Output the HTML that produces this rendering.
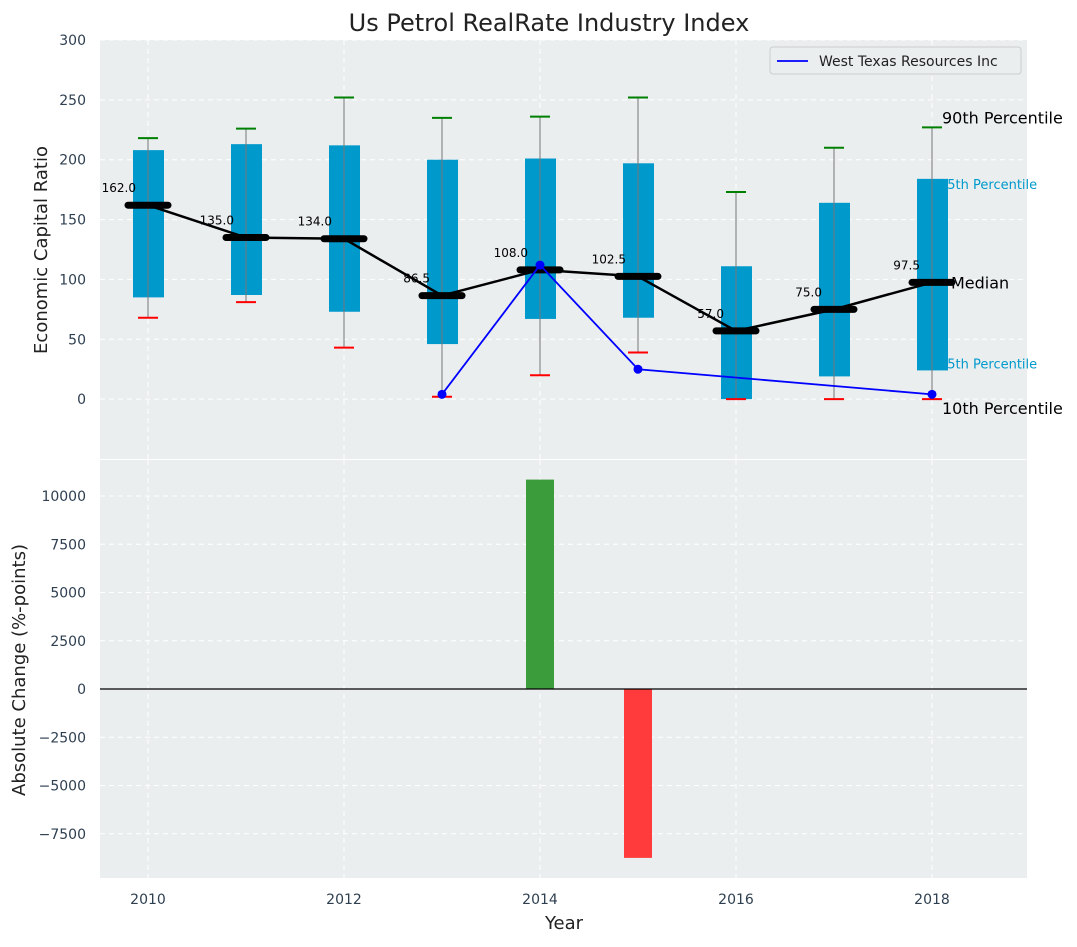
<!DOCTYPE html>
<html><head><meta charset="utf-8"><style>
body{margin:0;background:#fff;font-family:"Liberation Sans","DejaVu Sans",sans-serif;}
svg text{font-family:"DejaVu Sans","Liberation Sans",sans-serif;}
</style></head><body>
<svg id="c" width="1077" height="942" xmlns="http://www.w3.org/2000/svg"></svg>
<script>
const years=[2010,2011,2012,2013,2014,2015,2016,2017,2018];
const q1=[85,87,73,46,67,68,0,19,24];
const q3=[208,213,212,200,201,197,111,164,184];
const p10=[68,81,43,2,20,39,0,0,0];
const p90=[218,226,252,235,236,252,173,210,227];
const medians=[162,135,134,86.5,108,102.5,57,75,97.5];
const compYears=[2013,2014,2015,2018];
const compVals=[4,112,25,4];
const changeYears=[2014,2015];
const changeVals=[10850,-8750];
const topTicks=[0,50,100,150,200,250,300];
const botTicks=[-7500,-5000,-2500,0,2500,5000,7500,10000];
const xTicks=[2010,2012,2014,2016,2018];

const NS="http://www.w3.org/2000/svg";
const svg=document.getElementById('c');
function el(t,a,txt){const e=document.createElementNS(NS,t);for(const k in a)e.setAttribute(k,a[k]);if(txt!==undefined)e.textContent=txt;svg.appendChild(e);return e;}
const L=100,R=1027;
const x=v=>148+(v-2010)*98;
const T0=40,T1=459;
const yT=v=>T1-(v+50)/350*(T1-T0);
const B0=460,B1=878;
const yB=v=>689-v*0.0193;
const fmt=v=>String(v).replace('-','\u2212');

let p=el('rect',{x:L,y:T0,width:R-L,height:T1-T0,fill:'#eaeeef'});

p=el('rect',{x:L,y:B0,width:R-L,height:B1-B0,fill:'#eaeeef'});


xTicks.forEach(v=>{
  let g=el('line',{x1:x(v),x2:x(v),y1:T0,y2:T1,stroke:'#fff','stroke-dasharray':'5,4'});
  
  g=el('line',{x1:x(v),x2:x(v),y1:B0,y2:B1,stroke:'#fff','stroke-dasharray':'5,4'});
  
  const t=el('text',{x:x(v),y:904,'text-anchor':'middle','font-size':14,fill:'#2e3f50'},v);
  
});
topTicks.forEach(v=>{
  const g=el('line',{x1:L,x2:R,y1:yT(v),y2:yT(v),stroke:'#fff','stroke-dasharray':'5,4'});
  
  const t=el('text',{x:86,y:yT(v)+5,'text-anchor':'end','font-size':14,fill:'#2e3f50'},fmt(v));
  
});
botTicks.forEach(v=>{
  const g=el('line',{x1:L,x2:R,y1:yB(v),y2:yB(v),stroke:'#fff','stroke-dasharray':'5,4'});
  
  const t=el('text',{x:86,y:yB(v)+5,'text-anchor':'end','font-size':14,fill:'#2e3f50'},fmt(v));
  
});

const li=years.length-1,lx=x(years[li]);
[[q3[li],'75th Percentile',10],[q1[li],'25th Percentile',-2]].forEach(a=>{
  const t=el('text',{x:lx+7,y:yT(a[0])+a[2],'font-size':13,fill:'#0099cc'},a[1]);
  
});

years.forEach((yr,i)=>{
  const cx=x(yr);
  const b=el('rect',{x:cx-15,y:yT(q3[i]),width:31,height:yT(q1[i])-yT(q3[i]),fill:'#0099cc'});
  
  const w=el('line',{x1:cx,x2:cx,y1:yT(p90[i]),y2:yT(p10[i]),stroke:'#777','stroke-width':1});
  
  const c1=el('line',{x1:cx-10,x2:cx+10,y1:yT(p90[i]),y2:yT(p90[i]),stroke:'green','stroke-width':2});
  
  const c2=el('line',{x1:cx-10,x2:cx+10,y1:yT(p10[i]),y2:yT(p10[i]),stroke:'red','stroke-width':2});
  
});
let pts=years.map((yr,i)=>x(yr)+','+yT(medians[i])).join(' ');
let ml=el('polyline',{points:pts,fill:'none',stroke:'#000','stroke-width':2.5});

years.forEach((yr,i)=>{
  const cx=x(yr),cy=yT(medians[i]);
  const m=el('line',{x1:cx-20,x2:cx+20,y1:cy,y2:cy,stroke:'#000','stroke-width':7,'stroke-linecap':'round'});
  
  const t=el('text',{x:cx-12,y:cy-13,'text-anchor':'end','font-size':12,fill:'#000'},medians[i].toFixed(1));
  
});
pts=compYears.map((yr,i)=>x(yr)+','+yT(compVals[i])).join(' ');
let cl=el('polyline',{points:pts,fill:'none',stroke:'blue','stroke-width':1.8});

compYears.forEach((yr,i)=>{
  const d=el('circle',{cx:x(yr),cy:yT(compVals[i]),r:4.5,fill:'blue'});
  
});
[[p90[li],'90th Percentile',10,-4],[medians[li],'Median',19,6],[p10[li],'10th Percentile',10,15]].forEach(a=>{
  const t=el('text',{x:lx+a[2],y:yT(a[0])+a[3],'font-size':16,fill:'#000'},a[1]);
  
});
changeYears.forEach((yr,i)=>{
  const v=changeVals[i];
  const b=el('rect',{x:x(yr)-14,y:Math.min(yB(v),yB(0)),width:28,height:Math.abs(yB(v)-yB(0)),fill:v>=0?'#3a9c3a':'#ff3b3b'});
  
});
let zl=el('line',{x1:L,x2:R,y1:yB(0),y2:yB(0),stroke:'#000','stroke-width':1.2});


let lg=el('rect',{x:770,y:47,width:251,height:27,fill:'#eaeeef',stroke:'#ccc',rx:3});

let ll=el('line',{x1:777,x2:808,y1:61,y2:61,stroke:'blue','stroke-width':1.8});

let lt=el('text',{x:819,y:66,'font-size':14,fill:'#222'},'West Texas Resources Inc');


let tt=el('text',{x:549,y:31,'text-anchor':'middle','font-size':24,fill:'#222'},'Us Petrol RealRate Industry Index');

tt=el('text',{x:564,y:929,'text-anchor':'middle','font-size':18,fill:'#222'},'Year');

tt=el('text',{x:47,y:250,'text-anchor':'middle','font-size':18,fill:'#222',transform:'rotate(-90 47 250)'},'Economic Capital Ratio');

tt=el('text',{x:25,y:670,'text-anchor':'middle','font-size':18,fill:'#222',transform:'rotate(-90 25 670)'},'Absolute Change (%-points)');

</script>
</body></html>
